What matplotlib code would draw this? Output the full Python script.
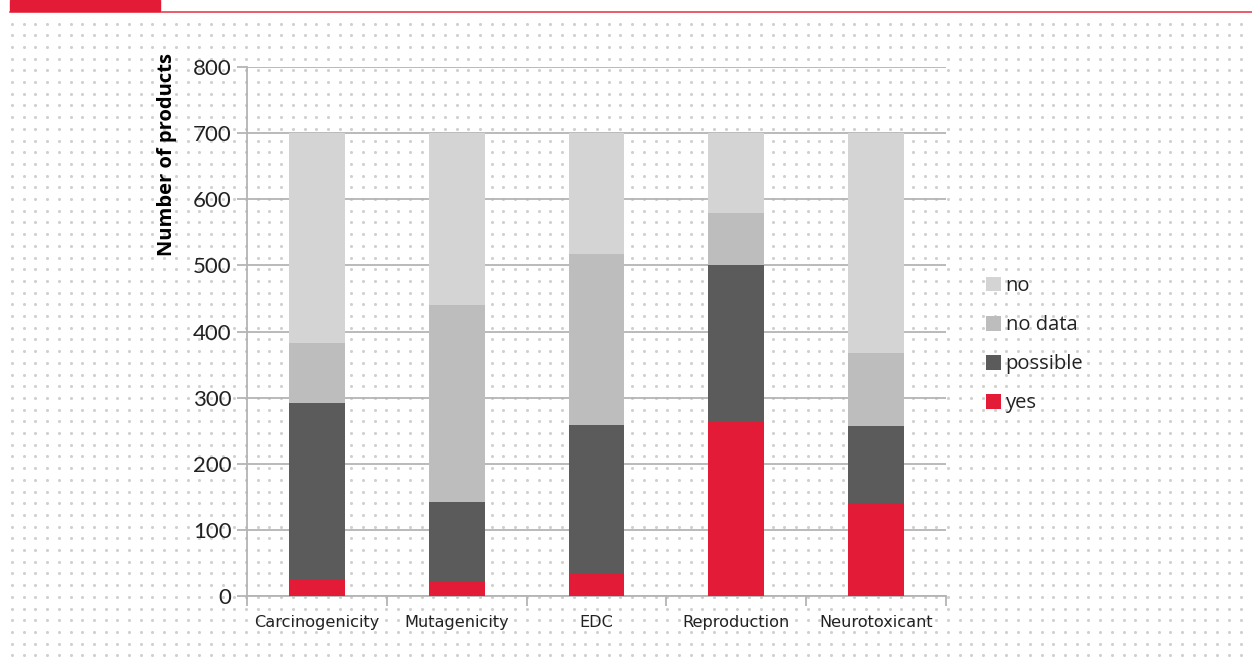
import numpy as np
import matplotlib.pyplot as plt
from matplotlib.patches import Rectangle
from matplotlib.lines import Line2D

categories = ["Carcinogenicity", "Mutagenicity", "EDC", "Reproduction", "Neurotoxicant"]
yes = [24, 22, 35, 263, 141]
possible = [268, 120, 224, 238, 116]
no_data = [91, 298, 258, 78, 111]
no = [317, 260, 183, 121, 332]

series = [("yes", yes, "#e31b37"),
          ("possible", possible, "#5a5b5a"),
          ("no data", no_data, "#bdbdbd"),
          ("no", no, "#d4d4d4")]

W, H = 1252, 666
fig = plt.figure(figsize=(W / 100, H / 100), dpi=100)
fig.patch.set_facecolor("white")

# dotted backdrop across the whole page
bg = fig.add_axes([0, 0, 1, 1], zorder=0)
bg.set_xlim(0, W)
bg.set_ylim(H, 0)
bg.axis("off")
gx, gy = np.meshgrid(np.arange(12, W, 11.7), np.arange(23.5, H - 5, 11.7))
bg.scatter(gx.ravel(), gy.ravel(), s=5, color="#d0d0d0", linewidths=0)

# header band
fig.patches.append(Rectangle((10 / W, 1 - 11 / H), 150 / W, 11 / H,
                             transform=fig.transFigure, color="#e31b37", zorder=5))
fig.lines.append(Line2D([10 / W, 1], [1 - 12 / H, 1 - 12 / H],
                        transform=fig.transFigure, color="#e8404f", lw=1.2, zorder=5))

ax = fig.add_axes([247 / W, 70 / H, 699 / W, 529 / H], zorder=1)
ax.set_facecolor("none")

x = np.arange(len(categories))
bottom = np.zeros(len(categories))
handles = []
for label, vals, color in series:
    b = ax.bar(x, vals, 0.4, bottom=bottom, color=color, label=label, zorder=3)
    bottom += np.array(vals)
    handles.append(b)

ax.set_xlim(-0.5, len(categories) - 0.5)
ax.set_ylim(0, 800)
ax.set_yticks(range(0, 801, 100))
ax.yaxis.grid(True, color="#b4b4b4", lw=1.3, zorder=1)
ax.set_axisbelow(True)

for s in ["top", "right"]:
    ax.spines[s].set_visible(False)
for s in ["left", "bottom"]:
    ax.spines[s].set_color("#b4b4b4")
    ax.spines[s].set_linewidth(1.3)

ax.set_xticks(np.arange(-0.5, len(categories)), minor=False)
ax.set_xticklabels([])
ax.set_xticks(x, minor=True)
ax.set_xticklabels(categories, minor=True,
                   family=["Liberation Sans Narrow", "DejaVu Sans"], fontsize=11.6)
ax.tick_params(axis="x", which="major", length=7, color="#b4b4b4", width=1.3, direction="out")
ax.tick_params(axis="x", which="minor", length=0, pad=14, colors="#222222")
ax.tick_params(axis="y", length=7, color="#b4b4b4", width=1.3, pad=4, labelsize=16,
               labelcolor="#222222")
for t in ax.get_yticklabels():
    t.set_family(["Lato", "DejaVu Sans"])

ax.set_ylabel("Number of products", fontsize=14.5, fontweight="bold",
              family=["Open Sans", "DejaVu Sans"])
ax.yaxis.set_label_coords(-0.1, 0.834)

leg = ax.legend(handles[::-1], [s[0] for s in series][::-1],
                loc="center left", bbox_to_anchor=(1.045, 0.475),
                frameon=False, handlelength=0.75, handleheight=0.75,
                handletextpad=0.25, labelspacing=0.95, borderaxespad=0,
                prop={"family": ["Open Sans", "DejaVu Sans"], "size": 14.5})
for t in leg.get_texts():
    t.set_color("#222222")

fig.savefig("out.png", dpi=100)
